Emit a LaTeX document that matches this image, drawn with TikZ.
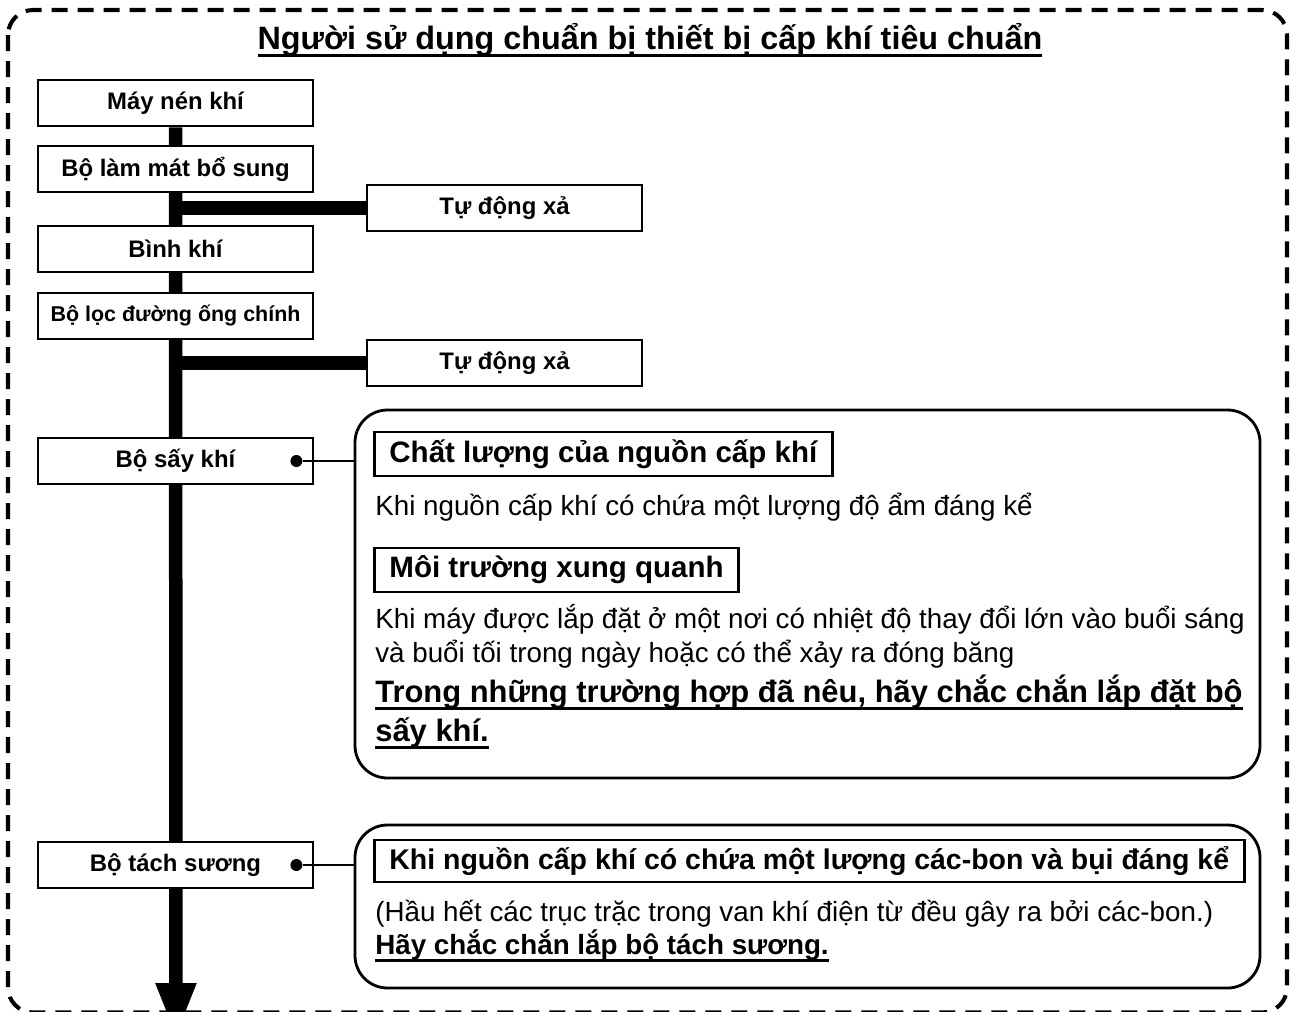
\documentclass[tikz,border=0pt]{standalone}
\usepackage{fontspec}
\setmainfont{Liberation Sans}
\usetikzlibrary{calc}
\usetikzlibrary{arrows.meta}
\usetikzlibrary{positioning}
\usetikzlibrary{backgrounds}

\newcommand{\thickul}[1]{\setbox0\hbox{#1}\rlap{\rule[-4pt]{\wd0}{1.7pt}}\box0}

\tikzset{
  unit/.style={draw, fill=white, line width=1.6pt, minimum width=5.5cm, minimum height=0.92cm, inner sep=0pt, font=\bfseries\fontsize{13.6}{15}\selectfont},
  pipe/.style={line width=0.27cm},
  infobox/.style={draw, line width=1.6pt, rounded corners=0.65cm, minimum width=18.1cm},
  heading/.style={draw, line width=1.6pt, anchor=west, minimum height=0.88cm, inner xsep=0.3cm, font=\bfseries\fontsize{16.8}{19}\selectfont},
  body/.style={anchor=west, inner sep=0pt, align=left, font=\fontsize{15.8}{19.4}\selectfont},
  dot/.style={circle, fill, inner sep=0pt, minimum size=0.24cm},
}

\begin{document}
\begin{tikzpicture}
\useasboundingbox (0,0) rectangle (25.8,-20.22);

% dashed frame
\draw[line width=2.3pt, dash pattern=on 0.32cm off 0.2cm, rounded corners=0.5cm] (0.16,-0.2) rectangle (25.74,-20.25);

\node[font=\bfseries\fontsize{18.4}{21}\selectfont] (title) at (13,-0.8) {\thickul{Người sử dụng chuẩn bị thiết bị cấp khí tiêu chuẩn}};

% main line
\node[unit] (comp) at (3.51,-2.06) {Máy nén khí};
\node[unit] (cool) at (3.51,-3.38) {Bộ làm mát bổ sung};
\node[unit] (tank) at (3.51,-4.98) {Bình khí};
\node[unit, font=\bfseries\fontsize{12.2}{14}\selectfont] (filt) at (3.51,-6.32) {Bộ lọc đường ống chính};
\node[unit] (dryer) at (3.51,-9.22) {Bộ sấy khí};
\node[unit] (mist) at (3.51,-17.30) {Bộ tách sương};
\coordinate (end) at (3.52,-20.76);

\node[unit] (drain1) at (10.09,-4.16) {Tự động xả};
\node[unit] (drain2) at (10.09,-7.26) {Tự động xả};

\begin{scope}[on background layer]
\draw[pipe, -{Triangle[width=0.74cm,length=1.1cm]}] (comp.south) -- (end);
\draw[pipe] (comp.south |- drain1.west) -- (drain1.west);
\draw[pipe] (comp.south |- drain2.west) -- (drain2.west);
\end{scope}

% dryer note
\node[infobox, minimum height=7.36cm] (info1) at (16.15,-11.88) {};
\node[dot] (d1) at ($(dryer.east)+(-0.36,0)$) {};
\draw[line width=1.4pt] (d1) -- (d1 -| info1.west);

\node[heading] (h1) at (7.46,-9.08) {Chất lượng của nguồn cấp khí};
\node[body] (t1) at (7.5,-10.14) {Khi nguồn cấp khí có chứa một lượng độ ẩm đáng kể};
\node[heading] (h2) at (7.46,-11.4) {Môi trường xung quanh};
\node[body, anchor=north west] (t2) at (7.5,-12.08) {Khi máy được lắp đặt ở một nơi có nhiệt độ thay đổi lớn vào buổi sáng\\và buổi tối trong ngày hoặc có thể xảy ra đóng băng};
\node[body, anchor=north west, font=\bfseries\fontsize{17.6}{22}\selectfont] (t3) at (7.5,-13.5) {\thickul{Trong những trường hợp đã nêu, hãy chắc chắn lắp đặt bộ}\\\thickul{sấy khí.}};

% mist note
\node[infobox, minimum height=3.26cm] (info2) at (16.15,-18.13) {};
\node[dot] (d2) at ($(mist.east)+(-0.36,0)$) {};
\draw[line width=1.4pt] (d2) -- (d2 -| info2.west);

\node[heading, minimum height=0.84cm, font=\bfseries\fontsize{16.2}{18}\selectfont] (h3) at (7.46,-17.22) {Khi nguồn cấp khí có chứa một lượng các-bon và bụi đáng kể};
\node[body] (t4) at (7.5,-18.28) {(Hầu hết các trục trặc trong van khí điện từ đều gây ra bởi các-bon.)};
\node[body, font=\bfseries\fontsize{15.8}{18}\selectfont] (t5) at (7.5,-18.92) {\thickul{Hãy chắc chắn lắp bộ tách sương.}};
\end{tikzpicture}
\end{document}
